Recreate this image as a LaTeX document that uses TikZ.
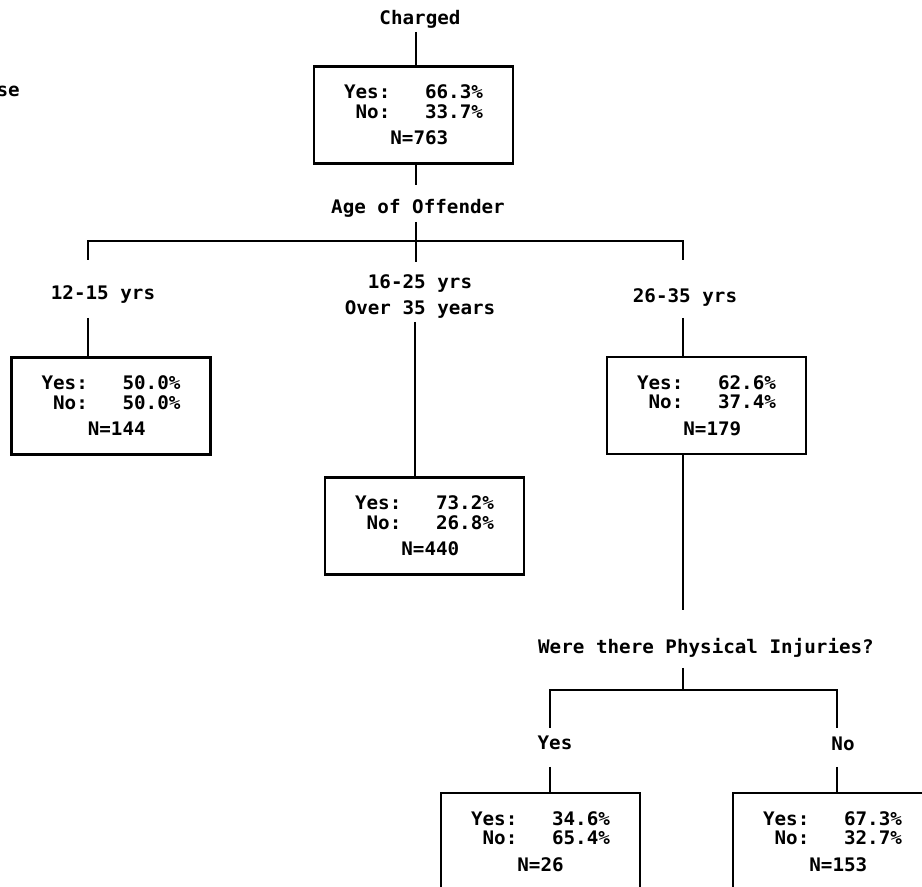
\documentclass[tikz,border=0pt]{standalone}
\usepackage{fontspec}
\newfontfamily\mono[FakeStretch=1.03,WordSpace={1,0,0},UprightFont={* Bold}]{DejaVu Sans Mono}
\usetikzlibrary{calc}
\newcommand\pad[1]{\phantom{#1}}
\newcommand\txtfont{\mono\fontsize{14}{14.6}\selectfont}

\begin{document}
\begin{tikzpicture}[x=0.75pt,y=-0.75pt,
  wire/.style={line width=1.9pt},
  lbl/.style={inner sep=0pt,anchor=base,font=\txtfont},
  stat/.style={draw,line width=1.8pt,inner sep=0pt,
    minimum width=149.25pt,minimum height=72.75pt,align=left,font=\txtfont}]

\useasboundingbox (0,0) rectangle (922,887);
\fill[white] (0,0) rectangle (922,887);
\clip (0,0) rectangle (922,887);

% labels
\node[lbl,anchor=base east] (resp) at (20,96.5) {se};
\node[lbl] (charged) at (420,24.5) {Charged};
\node[lbl] (age) at (418,213.5) {Age of Offender};
\node[lbl] (ageA) at (103,299.5) {12-15 yrs};
\node[lbl] (ageB1) at (420,288.5) {16-25 yrs};
\node[lbl] (ageB2) at (420,314.5) {Over 35 years};
\node[lbl] (ageC) at (685,302.5) {26-35 yrs};
\node[lbl] (inj) at (706,653.5) {Were there Physical Injuries?};
\node[lbl] (injY) at (555,749.5) {Yes};
\node[lbl] (injN) at (843,750.5) {No};

% result boxes
\node[stat] (top) at (413.5,115)
  {Yes:\pad{000}66.3\%\\\pad{0}No:\pad{000}33.7\%\\[5.6pt]\pad{0000}N=763};
\node[stat] (b1) at (111,406)
  {Yes:\pad{000}50.0\%\\\pad{0}No:\pad{000}50.0\%\\[5.6pt]\pad{0000}N=144};
\node[stat] (b2) at (424.5,526)
  {Yes:\pad{000}73.2\%\\\pad{0}No:\pad{000}26.8\%\\[5.6pt]\pad{0000}N=440};
\node[stat] (b3) at (706.5,405.5)
  {Yes:\pad{000}62.6\%\\\pad{0}No:\pad{000}37.4\%\\[5.6pt]\pad{0000}N=179};
\node[stat] (b4) at (540.5,841.5)
  {Yes:\pad{000}34.6\%\\\pad{0}No:\pad{000}65.4\%\\[5.6pt]\pad{0000}N=26};
\node[stat] (b5) at (832.5,841.5)
  {Yes:\pad{000}67.3\%\\\pad{0}No:\pad{000}32.7\%\\[5.6pt]\pad{0000}N=153};

% line ends and junctions
\coordinate (c0) at (416,32);
\coordinate (c1) at (416,185);
\coordinate (c2) at (416,222);
\coordinate (jm) at (416,241);
\coordinate (jl) at (88,241);
\coordinate (jr) at (683,241);
\coordinate (l1) at (88,260);
\coordinate (l2) at (88,318);
\coordinate (m1) at (416,262);
\coordinate (m2) at (415,322);
\coordinate (r1) at (683,260);
\coordinate (r2) at (683,318);
\coordinate (r3) at (683,610);
\coordinate (q1) at (683,668);
\coordinate (jq) at (683,690);
\coordinate (jy) at (550,690);
\coordinate (jn) at (837,690);
\coordinate (y1) at (550,728);
\coordinate (y2) at (550,767);
\coordinate (n1) at (837,728);
\coordinate (n2) at (837,767);

% connectors
\draw[wire] (c0) -- (c0 |- top.north);
\draw[wire] (c1 |- top.south) -- (c1);
\draw[wire] (c2) -- (jm) -- (m1);
\draw[wire] (l1) -- (jl) -- (jr) -- (r1);
\draw[wire] (l2) -- (l2 |- b1.north);
\draw[wire] (m2) -- (m2 |- b2.north);
\draw[wire] (r2) -- (r2 |- b3.north);
\draw[wire] (r3 |- b3.south) -- (r3);
\draw[wire] (q1) -- (jq);
\draw[wire] (y1) -- (jy) -- (jn) -- (n1);
\draw[wire] (y2) -- (y2 |- b4.north);
\draw[wire] (n2) -- (n2 |- b5.north);
\end{tikzpicture}
\end{document}
